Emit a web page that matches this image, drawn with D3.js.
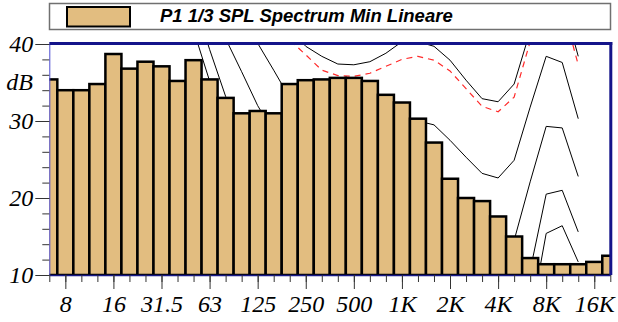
<!DOCTYPE html>
<html>
<head>
<meta charset="utf-8">
<script src="https://cdn.jsdelivr.net/npm/d3@7/dist/d3.min.js"></script>
<style>
  body { margin: 0; background: #fff; }
  #chart { width: 618px; height: 322px; }
  .axis text { font-family: "Liberation Serif", "Times New Roman", serif; font-style: italic; font-size: 24px; fill: #000; }
</style>
</head>
<body>
<div id="chart"></div>
<script>
// 1/3 octave bands
const bands = ["6.3", "8", "10", "12.5", "16", "20", "25", "31.5", "40", "50", "63", "80",
    "100", "125", "160", "200", "250", "315", "400", "500", "630", "800", "1K", "1.25K",
    "1.6K", "2K", "2.5K", "3.15K", "4K", "5K", "6.3K", "8K", "10K", "12.5K", "16K", "20K"];

// measured spectrum (dB)
const levels = [35.4, 34.0, 34.0, 34.8, 38.7, 36.8, 37.7, 37.1, 35.2, 37.9, 35.4, 33.0,
    31.0, 31.3, 31.0, 34.8, 35.3, 35.4, 35.6, 35.6, 35.2, 33.4, 32.4, 30.3,
    27.2, 22.5, 20.0, 19.6, 17.6, 15.0, 12.2, 11.4, 11.4, 11.4, 11.7, 12.5];

// reference curves, 6.3 Hz .. 12.5 kHz
const curve1 = [75, 70, 65, 61, 57, 53, 50, 47, 44.5, 41.8, 35.2, 29, 24, 20, 17, 15, 13,
    12, 11, 10.5, 10.5, 10.5, 11, 11, 10.5, 9, 7, 6, 5.5, 6, 4, 15.4, 16.4, 11.7];
const curve2 = [80, 75, 70, 66, 62, 58, 55, 52, 50, 46, 39.3, 33.2, 28, 24.5, 22, 20, 19,
    18, 17.5, 17, 17, 17, 17.5, 17.5, 17, 15.5, 13.5, 12, 11.5, 11.5, 10.6, 20.5, 21, 15.6];
const curve3 = [85, 80, 75, 71, 67, 63, 60, 56, 52, 48, 44.5, 40.7, 36.4, 32.0, 28.5, 26,
    24.5, 23.5, 23, 22.5, 22.5, 22.5, 23, 23, 22.5, 20.5, 18.5, 16.5, 15.5, 14.5, 22.1, 29.3, 29.1, 22.8];
const curve4 = [90, 85, 80, 76, 72, 68, 65, 61, 58, 54, 51, 47.5, 44, 40.1, 36.6, 33, 32,
    31.5, 31, 30.5, 30.5, 30.5, 30.5, 30, 29.5, 27.5, 25.3, 23.2, 22.6, 24.9, 31.8, 38.4, 37.6, 30.3];
const curve5 = [95, 90, 85, 81, 77, 73, 70, 66, 63, 60, 57, 54, 51, 48, 45, 42, 39.7,
    38.4, 37.4, 37.3, 37.7, 38.8, 40.3, 40.3, 39.7, 37.9, 35.3, 32.9, 32.5, 34.8, 41.7, 47, 46, 38.4];
const redCurve = [93, 88, 83, 79, 75, 71, 68, 64, 61, 58, 55, 52, 49, 46, 43, 40.5, 38.6,
    36.6, 35.9, 35.8, 36.2, 37.1, 38.0, 38.4, 37.9, 36.5, 34.2, 31.9, 31.2, 33.1, 40.3, 46, 45, 37.3];

// tick labels
const xTickLabels = ["8", "16", "31.5", "63", "125", "250", "500", "1K", "2K", "4K", "8K", "16K"];
const yTickValues = [10, 20, 30, 40];
const yMinorTicks = d3.range(10, 41, 2);

const legendText = "P1 1/3 SPL Spectrum Min Lineare";
const barColor = "#e2bd80";

const svg = d3.select("#chart")
    .append("svg")
    .attr("width", 618)
    .attr("height", 322);

// scales: x by band index
const x = d3.scaleLinear().domain([0, bands.length - 1]).range([49.3, 610.3]);
const y = d3.scaleLinear().domain([10, 40]).range([275, 44]);

// clip to plot area
svg.append("clipPath")
    .attr("id", "plot-clip")
    .append("rect")
    .attr("x", x(0))
    .attr("y", y(40))
    .attr("width", x(bands.length - 1) - x(0))
    .attr("height", y(10) - y(40));

const plot = svg.append("g").attr("clip-path", "url(#plot-clip)");

// Add reference curves (drawn behind the bars)
const line = d3.line()
    .x((d, i) => x(i))
    .y(d => y(d));

[curve1, curve2, curve3, curve4, curve5].forEach(c => {
    plot.append("path")
        .datum(c)
        .attr("fill", "none")
        .attr("stroke", "#000")
        .attr("stroke-width", 1)
        .attr("d", line);
});

plot.append("path")
    .datum(redCurve)
    .attr("fill", "none")
    .attr("stroke", "#ff2a2a")
    .attr("stroke-width", 1.2)
    .attr("stroke-dasharray", "6 5")
    .attr("d", line);

// Add bars
plot.selectAll(".bar")
    .data(levels)
    .enter().append("rect")
    .attr("class", "bar")
    .attr("x", (d, i) => x(i - 0.5))
    .attr("y", d => y(d))
    .attr("width", (d, i) => x(i + 0.5) - x(i - 0.5))
    .attr("height", d => y(10) - y(d))
    .attr("fill", barColor)
    .attr("stroke", "#000")
    .attr("stroke-width", 2.5);

// Add Y axis: minor ticks then labelled ones
svg.append("g")
    .attr("class", "axis")
    .attr("transform", `translate(${x(0)},0)`)
    .call(d3.axisLeft(y).tickValues(yMinorTicks).tickSize(7).tickSizeOuter(0).tickFormat(""))
    .call(g => g.select(".domain").attr("stroke", "#4a4ad0").attr("stroke-width", 1));

svg.append("g")
    .attr("class", "axis")
    .attr("transform", `translate(${x(0)},0)`)
    .call(d3.axisLeft(y).tickValues(yTickValues).tickSize(14).tickSizeOuter(0).tickPadding(2))
    .call(g => g.select(".domain").remove());

svg.selectAll(".axis .tick line").attr("stroke", "#333");

// unit label
svg.append("text")
    .attr("class", "axis")
    .attr("x", 33)
    .attr("y", y(35))
    .attr("dy", "0.32em")
    .attr("text-anchor", "end")
    .style("font-family", "'Liberation Serif', serif")
    .style("font-style", "italic")
    .style("font-size", "24px")
    .text("dB");

// Add X axis: a tick for every band, long ones at the labelled octaves
svg.append("g")
    .attr("class", "axis")
    .attr("transform", `translate(0,${y(10)})`)
    .call(d3.axisBottom(x).tickValues(d3.range(bands.length)).tickSize(7).tickSizeOuter(0).tickFormat(""))
    .call(g => g.select(".domain").attr("stroke", "#1a1a8a").attr("stroke-width", 1.5));

svg.append("g")
    .attr("class", "axis")
    .attr("transform", `translate(0,${y(10)})`)
    .call(d3.axisBottom(x)
        .tickValues(xTickLabels.map(l => bands.indexOf(l)))
        .tickSize(14)
        .tickSizeOuter(0)
        .tickPadding(6)
        .tickFormat(i => bands[i]))
    .call(g => g.select(".domain").remove());

svg.selectAll(".axis .tick line").attr("stroke", "#333");

// frame: thick navy top and right
svg.append("line")
    .attr("x1", x(0))
    .attr("x2", x(bands.length - 1) + 2)
    .attr("y1", y(40) - 0.5)
    .attr("y2", y(40) - 0.5)
    .attr("stroke", "#14148a")
    .attr("stroke-width", 3);

svg.append("line")
    .attr("x1", x(bands.length - 1) + 0.5)
    .attr("x2", x(bands.length - 1) + 0.5)
    .attr("y1", y(40) - 2)
    .attr("y2", y(10))
    .attr("stroke", "#14148a")
    .attr("stroke-width", 3);

// Add legend box at the top
const legend = svg.append("g");

legend.append("rect")
    .attr("x", 49.5)
    .attr("y", 3.5)
    .attr("width", 561)
    .attr("height", 26)
    .attr("fill", "#fff")
    .attr("stroke", "#707070")
    .attr("stroke-width", 1.5);

legend.append("rect")
    .attr("x", 67)
    .attr("y", 7)
    .attr("width", 63)
    .attr("height", 19.5)
    .attr("fill", barColor)
    .attr("stroke", "#000")
    .attr("stroke-width", 2);

legend.append("text")
    .attr("x", 160)
    .attr("y", 21.5)
    .style("font-family", "'Liberation Sans', Arial, sans-serif")
    .style("font-weight", "bold")
    .style("font-style", "italic")
    .style("font-size", "18.5px")
    .text(legendText);
</script>
</body>
</html>
